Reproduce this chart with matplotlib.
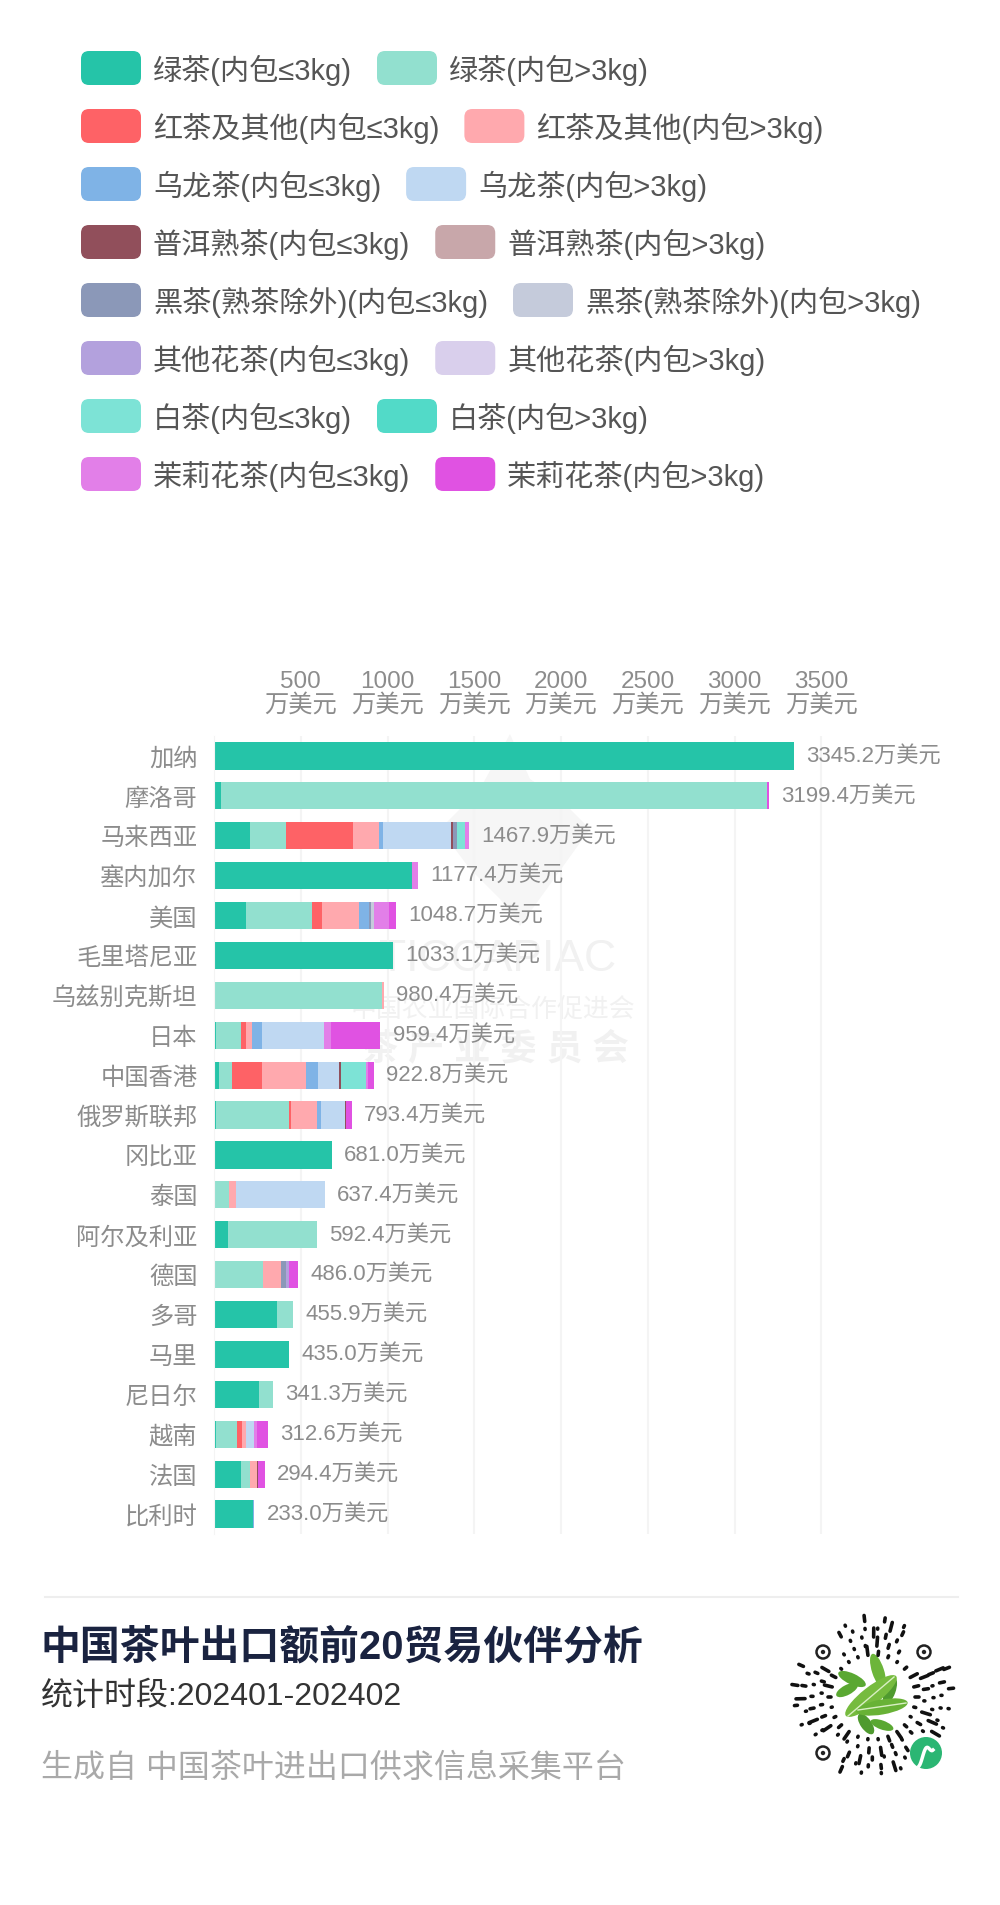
import numpy as np
import matplotlib
matplotlib.use('Agg')
import matplotlib.pyplot as plt
from matplotlib.patches import FancyBboxPatch, Ellipse, Circle

plt.rcParams['font.family'] = ['Liberation Sans', 'Noto Sans CJK SC', 'DejaVu Sans']

countries = ['加纳', '摩洛哥', '马来西亚', '塞内加尔', '美国', '毛里塔尼亚', '乌兹别克斯坦', '日本', '中国香港', '俄罗斯联邦',
             '冈比亚', '泰国', '阿尔及利亚', '德国', '多哥', '马里', '尼日尔', '越南', '法国', '比利时']
totals = [3345.2, 3199.4, 1467.9, 1177.4, 1048.7, 1033.1, 980.4, 959.4, 922.8, 793.4,
          681.0, 637.4, 592.4, 486.0, 455.9, 435.0, 341.3, 312.6, 294.4, 233.0]

green_s = [3345.2, 40, 210, 1142, 182, 1033.1, 0, 13, 29, 13, 681.0, 0, 80, 0, 362, 435.0, 259, 10, 157.4, 222]
green_l = [0, 3150, 206, 0, 385, 0, 968, 140, 76, 418, 0, 85, 512.4, 281, 93.9, 0, 82.3, 122, 50, 0]
red_s = [0, 0, 388, 0, 57, 0, 0, 30, 169, 10, 0, 0, 0, 0, 0, 0, 0, 27, 0, 0]
red_l = [0, 0, 147, 0, 212, 0, 12.4, 38, 257, 151, 0, 39, 0, 107, 0, 0, 0, 25, 40, 0]
oolong_s = [0, 0, 21, 0, 57, 0, 0, 57, 70, 25, 0, 0, 0, 0, 0, 0, 0, 0, 0, 11]
oolong_l = [0, 0, 392, 0, 0, 0, 0, 358, 118, 138.4, 0, 513.4, 0, 0, 0, 0, 0, 46, 0, 0]
puer_s = [0, 0, 12, 0, 0, 0, 0, 0, 13, 8, 0, 0, 0, 0, 0, 0, 0, 0, 5, 0]
puer_l = [0] * 20
dark_s = [0, 0, 22, 0, 12, 0, 0, 0, 0, 0, 0, 0, 0, 28, 0, 0, 0, 0, 0, 0]
dark_l = [0, 0, 0, 0, 15, 0, 0, 0, 0, 0, 0, 0, 0, 0, 0, 0, 0, 0, 0, 0]
flower_s = [0, 0, 0, 0, 0, 0, 0, 0, 0, 0, 0, 0, 0, 19, 0, 0, 0, 0, 0, 0]
flower_l = [0] * 20
white_s = [0, 0, 49, 0, 0, 0, 0, 0, 146, 0, 0, 0, 0, 0, 0, 0, 0, 0, 0, 0]
white_l = [0] * 20
jasmine_s = [0, 0, 20.9, 35.4, 86, 0, 0, 38, 11, 0, 0, 0, 0, 0, 0, 0, 0, 19, 0, 0]
jasmine_l = [0, 9.4, 0, 0, 42.7, 0, 0, 285.4, 33.8, 30, 0, 0, 0, 51, 0, 0, 0, 63.6, 42, 0]

series = [green_s, green_l, red_s, red_l, oolong_s, oolong_l, puer_s, puer_l,
          dark_s, dark_l, flower_s, flower_l, white_s, white_l, jasmine_s, jasmine_l]
colors = ['#25c4a8', '#92e0cf', '#fe6266', '#ffa9ae', '#7fb3e6', '#bfd8f2', '#914f5b', '#c8a7aa',
          '#8b98b8', '#c5cbdb', '#b3a1dd', '#d9cfec', '#7de3d6', '#52dac8', '#e27fe8', '#e052e2']
names = ['绿茶', '红茶及其他', '乌龙茶', '普洱熟茶', '黑茶(熟茶除外)', '其他花茶', '白茶', '茉莉花茶']

W, H = 1000, 1906
fig = plt.figure(figsize=(10, 19.06), dpi=100)

# page layer in pixel coords
bg = fig.add_axes([0, 0, 1, 1])
bg.set_xlim(0, W)
bg.set_ylim(H, 0)
bg.axis('off')

# faint watermark behind the bars
wm = '#f1f1f1'
bg.fill([510, 480, 440, 470, 500, 520, 590, 560, 530, 510],
        [735, 790, 830, 870, 900, 927, 830, 800, 780, 735], color='#f6f6f6', lw=0)
bg.text(498, 960, 'TICCAPIAC', fontsize=32, color=wm, ha='center', va='center')
bg.text(493, 1010, '中国农业国际合作促进会', fontsize=18.6, color=wm, ha='center', va='center')
bg.text(495, 1050, '茶 产 业 委 员 会', fontsize=26, color=wm, ha='center', va='center', weight='bold')

# legend, flowed row by row
r = fig.canvas.get_renderer()
for i, nm in enumerate(names):
    yc = 69 + i * 58
    x = 81
    for j, tail in enumerate(['(内包≤3kg)', '(内包>3kg)']):
        bg.add_patch(FancyBboxPatch((x, yc - 17), 60, 34, boxstyle='round,pad=0,rounding_size=8',
                                    fc=colors[i * 2 + j], lw=0))
        t = bg.text(x + 72, yc + 1, nm + tail, fontsize=21, color='#555555', ha='left', va='center')
        x = x + 72 + t.get_window_extent(r).width + 25

# chart
ax = fig.add_axes([214 / W, 1 - 1535 / H, 694 / W, (1535 - 737) / H])
ax.patch.set_alpha(0)
y = np.arange(len(countries))
left = np.zeros(len(countries))
for vals, c in zip(series, colors):
    ax.barh(y, vals, left=left, height=0.68, color=c, lw=0)
    left = left + np.array(vals)
ax.set_xlim(0, 4000)
ax.set_ylim(19.5, -0.5)
ticks = [500, 1000, 1500, 2000, 2500, 3000, 3500]
ax.set_xticks(ticks)
ax.set_xticklabels([f'{v}\n万美元' for v in ticks], fontsize=17.5, color='#8c8c8c', linespacing=1.0)
ax.xaxis.tick_top()
ax.set_yticks(y)
ax.set_yticklabels(countries, fontsize=17.5, color='#8c8c8c')
ax.tick_params(length=0)
ax.tick_params(axis='x', pad=15)
ax.tick_params(axis='y', pad=12)
ax.grid(axis='x', color='#f4f4f4', lw=1.5)
ax.set_axisbelow(True)
for s in ['top', 'right', 'bottom']:
    ax.spines[s].set_visible(False)
ax.spines['left'].set_color('#f4f4f4')
for yy, tot in zip(y, totals):
    ax.text(tot + 70, yy, f'{tot:.1f}万美元', fontsize=16, color='#8c8c8c', va='center', ha='left')

# footer
bg.plot([45, 958], [1598, 1598], color='#eeeeee', lw=1.5)
bg.text(41, 1647, '中国茶叶出口额前20贸易伙伴分析', fontsize=28.7, weight='bold', color='#1a2340', va='center')
bg.text(41, 1697, '统计时段:202401-202402', fontsize=23, color='#333333', va='center')
bg.text(41, 1769, '生成自 中国茶叶进出口供求信息采集平台', fontsize=23, color='#a9a9a9', va='center')

# mini program code
cx, cy = 873, 1698
rings = [42, 51, 60, 68, 76]
counts = [26, 28, 32, 34, 24]
lens = [4, 1, 8, 2, 1, 5, 1, 9, 1, 3]
for k, (rad, cnt) in enumerate(zip(rings, counts)):
    for a in range(cnt):
        th = 2 * np.pi * a / cnt + k * 0.3
        l = min(lens[(a * 3 + k * 7) % len(lens)], 82 - rad)
        x0, y0 = cx + rad * np.cos(th), cy + rad * np.sin(th)
        x1, y1 = cx + (rad + l) * np.cos(th), cy + (rad + l) * np.sin(th)
        if min(np.hypot(x0 - fx, y0 - fy) for fx, fy in [(823, 1653), (924, 1653), (823, 1754), (926, 1754)]) < 20:
            continue
        bg.plot([x0, x1], [y0, y1], color='#111111', lw=2.6, solid_capstyle='round')
for fx, fy in [(823, 1653), (924, 1653), (823, 1754)]:
    bg.add_patch(Circle((fx, fy), 6.5, fc='none', ec='#222222', lw=1.8))
    bg.add_patch(Circle((fx, fy), 2.2, fc='#222222', ec='none'))
bg.add_patch(Circle((926, 1754), 16, fc='#2bb673', ec='none'))
tt = np.linspace(0, 1, 40)
bg.plot(926 - 7 + 14 * tt, 1754 + 5 * np.cos(2 * np.pi * tt) - 2 * (tt - 0.5) * 8, color='white', lw=2.5)
leaves = [(852, 1680, 30, 11, 25, '#5aa832'), (878, 1672, 36, 12, 72, '#6cb53a'), (890, 1692, 28, 11, -70, '#4f9a2f'),
          (847, 1691, 24, 10, -28, '#5aa832'), (866, 1725, 24, 11, 55, '#4f9a2f'), (882, 1726, 24, 9, 20, '#5aa832'),
          (871, 1697, 64, 18, -38, '#76bb3e'), (882, 1708, 52, 15, -10, '#68b236')]
for lx, ly, lw_, lh, ang, c in leaves:
    bg.add_patch(Ellipse((lx, ly), lw_, lh, angle=ang, fc=c, ec='none'))
bg.plot([848, 894], [1717, 1678], color='#d9efc4', lw=1)
bg.plot([858, 906], [1711, 1704], color='#d9efc4', lw=1)

fig.savefig('out.png', dpi=100)
plt.close(fig)
